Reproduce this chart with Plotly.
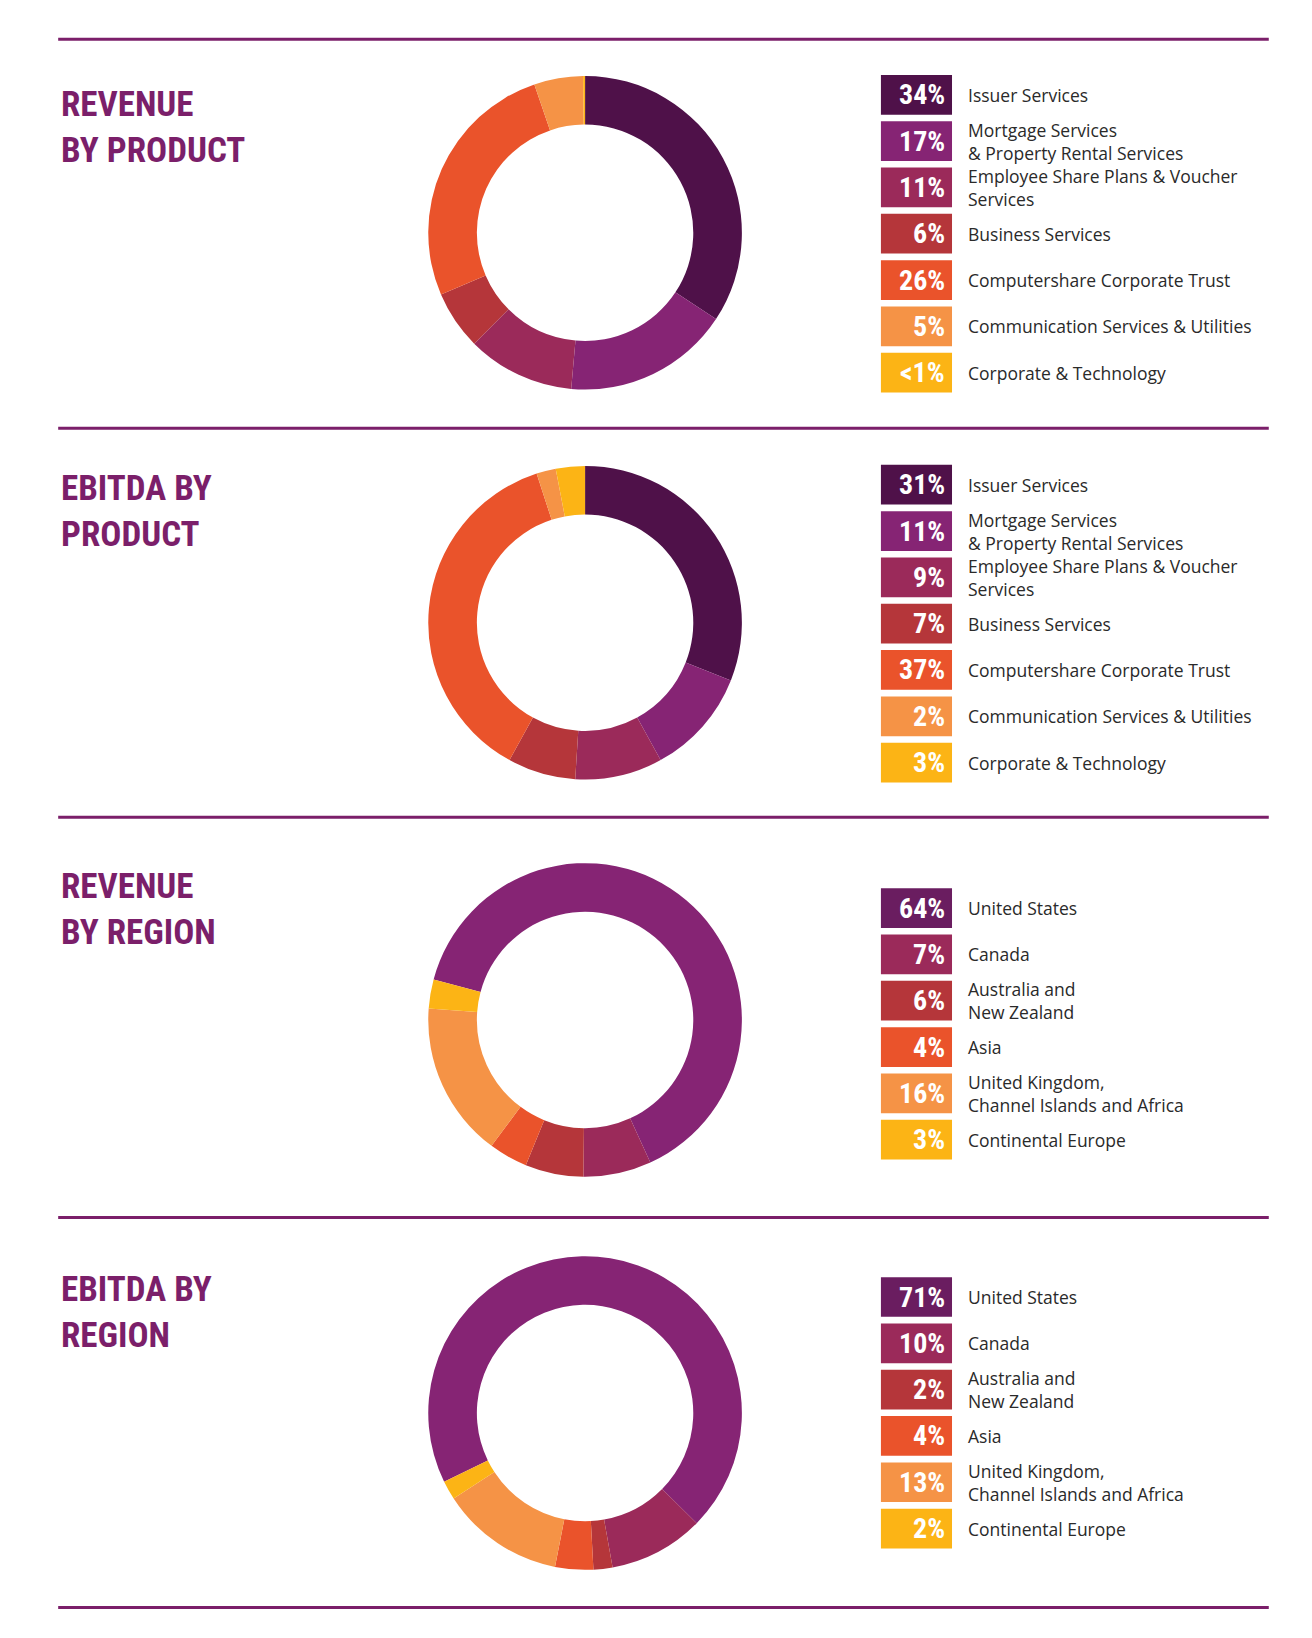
import plotly.graph_objects as go

W, H = 1312, 1638
S = 1312 / 1255  # reference measured in 1255-wide coordinates

prod_labels = ["Issuer Services", "Mortgage Services<br>& Property Rental Services",
               "Employee Share Plans & Voucher<br>Services", "Business Services",
               "Computershare Corporate Trust", "Communication Services & Utilities",
               "Corporate & Technology"]
prod_colors = ["#4f1149", "#862474", "#9b2a5a", "#b5363a", "#ea532b", "#f59346", "#fcb415"]
rev_prod_values = [34, 17, 11, 6, 26, 5, 0.2]
rev_prod_text = ["34%", "17%", "11%", "6%", "26%", "5%", "<1%"]
ebitda_prod_values = [31, 11, 9, 7, 37, 2, 3]
ebitda_prod_text = ["31%", "11%", "9%", "7%", "37%", "2%", "3%"]

reg_labels = ["United States", "Canada", "Australia and<br>New Zealand", "Asia",
              "United Kingdom,<br>Channel Islands and Africa", "Continental Europe"]
reg_colors = ["#862474", "#9b2a5a", "#b5363a", "#ea532b", "#f59346", "#fcb415"]
reg_legend_colors = ["#6a1d60", "#9b2a5a", "#b5363a", "#ea532b", "#f59346", "#fcb415"]
rev_reg_values = [64, 7, 6, 4, 16, 3]
ebitda_reg_values = [71, 10, 2, 4, 13, 2]

sections = [
    ("REVENUE<br>BY PRODUCT", prod_labels, rev_prod_values, rev_prod_text, prod_colors, prod_colors, 215, 0, 83),
    ("EBITDA BY<br>PRODUCT", prod_labels, ebitda_prod_values, ebitda_prod_text, prod_colors, prod_colors, 588, 0, 456),
    ("REVENUE<br>BY REGION", reg_labels, rev_reg_values, [f"{v}%" for v in rev_reg_values], reg_colors, reg_legend_colors, 968, 285, 861),
    ("EBITDA BY<br>REGION", reg_labels, ebitda_reg_values, [f"{v}%" for v in ebitda_reg_values], reg_colors, reg_legend_colors, 1344, 244, 1233),
]
title_y = [114, 482, 862, 1248]
dividers = [30, 402, 774, 1157, 1530]

def px(v):
    return v * S / W

def py(v):
    return 1 - v * S / H

fig = go.Figure()
shapes, annots = [], []
PURPLE = "#7b1f6a"
for i, (title, labels, vals, texts, colors, lcolors, cy, rot, ly0) in enumerate(sections):
    r = 150
    fig.add_trace(go.Pie(values=vals, labels=labels, marker=dict(colors=colors, line=dict(width=0)),
                         hole=0.69, sort=False, direction="clockwise", rotation=rot,
                         textinfo="none", hoverinfo="label+percent", showlegend=False,
                         domain=dict(x=[px(552 - r), px(552 + r)], y=[py(cy + r), py(cy - r)])))
    annots.append(dict(x=px(49), y=py(title_y[i]), xref="paper", yref="paper", xanchor="left", yanchor="middle",
                       text=f"<b>{title}</b>", showarrow=False, align="left",
                       font=dict(family="Liberation Sans Narrow, Roboto Condensed, Roboto", size=35, color=PURPLE)))
    for j, (lab, t, c) in enumerate(zip(labels, texts, lcolors)):
        yc = ly0 + j * 44.3
        shapes.append(dict(type="rect", xref="paper", yref="paper", x0=px(835), x1=px(903),
                           y0=py(yc + 19), y1=py(yc - 19), fillcolor=c, line=dict(width=0)))
        annots.append(dict(x=px(898), y=py(yc), xref="paper", yref="paper", xanchor="right", yanchor="middle",
                           text=f"<b>{t}</b>", showarrow=False,
                           font=dict(family="Liberation Sans Narrow, Roboto Condensed, Roboto", size=28, color="white")))
        annots.append(dict(x=px(916), y=py(yc), xref="paper", yref="paper", xanchor="left", yanchor="middle",
                           text=lab, showarrow=False, align="left",
                           font=dict(family="Open Sans, DejaVu Sans", size=17.5, color="#2a2a2a")))
for d in dividers:
    shapes.append(dict(type="line", xref="paper", yref="paper", x0=px(48), x1=px(1206),
                       y0=py(d), y1=py(d), line=dict(color=PURPLE, width=3)))

fig.update_layout(width=W, height=H, margin=dict(l=0, r=0, t=0, b=0), paper_bgcolor="white",
                  plot_bgcolor="white", shapes=shapes, annotations=annots)
fig.write_html("out.html")
